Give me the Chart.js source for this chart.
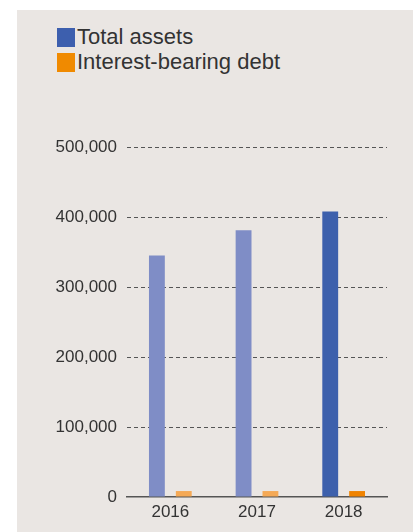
<!DOCTYPE html>
<html>
<head>
<meta charset="utf-8">
<script src="https://cdn.jsdelivr.net/npm/chart.js@4"></script>
<style>
  html, body { margin: 0; padding: 0; background: #ffffff; width: 413px; height: 532px; overflow: hidden; font-family: "Liberation Sans", Arial, sans-serif; }
  #panel { position: absolute; left: 17px; top: 10px; width: 396px; height: 522px; background: #eae6e3; }
  #wrap { position: absolute; left: 0; top: 0; width: 413px; height: 532px; }
  .leg { position: absolute; left: 57px; height: 20px; display: flex; align-items: center; color: #333; font-size: 22px; line-height: 20px; }
  .leg span.box { display: inline-block; width: 18px; height: 19px; margin-right: 2px; }
</style>
</head>
<body>
<div id="panel"></div>
<div class="leg" style="top:27px"><span class="box" style="background:#3d5fae"></span>Total assets</div>
<div class="leg" style="top:52px"><span class="box" style="background:#f08a00"></span>Interest-bearing debt</div>
<div id="wrap"><canvas id="c" width="413" height="532"></canvas></div>
<script>
const categories = ["2016", "2017", "2018"];
const totalAssets = [345000, 381000, 408000];
const interestBearingDebt = [8500, 8500, 8500];
const seriesNames = ["Total assets", "Interest-bearing debt"];
const yTicks = [0, 100000, 200000, 300000, 400000, 500000];

const assetColors = ["#7f8dc6", "#7f8dc6", "#3d60ac"];
const debtColors = ["#f5a955", "#f5a955", "#f08300"];

new Chart(document.getElementById("c"), {
  type: "bar",
  data: {
    labels: categories,
    datasets: [
      { label: seriesNames[0], data: totalAssets, backgroundColor: assetColors, borderWidth: 0, categoryPercentage: 0.62, barPercentage: 0.59 },
      { label: seriesNames[1], data: interestBearingDebt, backgroundColor: debtColors, borderWidth: 0, categoryPercentage: 0.62, barPercentage: 0.59 }
    ]
  },
  options: {
    responsive: false,
    animation: false,
    devicePixelRatio: 1,
    layout: { padding: { left: 0, right: 26, top: 147, bottom: 0 } },
    plugins: { legend: { display: false }, tooltip: { enabled: false } },
    scales: {
      x: {
        grid: { display: false, drawTicks: false },
        border: { display: true, color: "#555555", width: 1.5 },
        ticks: { color: "#333333", padding: 5, font: { family: "Liberation Sans", size: 17 } },
        afterFit(s) { s.height = 35; }
      },
      y: {
        min: 0, max: 500000,
        afterBuildTicks(s) { s.ticks = yTicks.map(v => ({ value: v })); },
        grid: {
          drawTicks: false,
          color: ctx => (ctx.tick && ctx.tick.value === 0) ? "rgba(0,0,0,0)" : "#555555",
          lineWidth: 1
        },
        border: { display: false, dash: [4, 3] },
        ticks: {
          color: "#333333", padding: 10,
          font: { family: "Liberation Sans", size: 17 },
          callback: v => v.toLocaleString("en-US")
        },
        afterFit(s) { s.width = 127; }
      }
    }
  }
});
</script>
</body>
</html>
